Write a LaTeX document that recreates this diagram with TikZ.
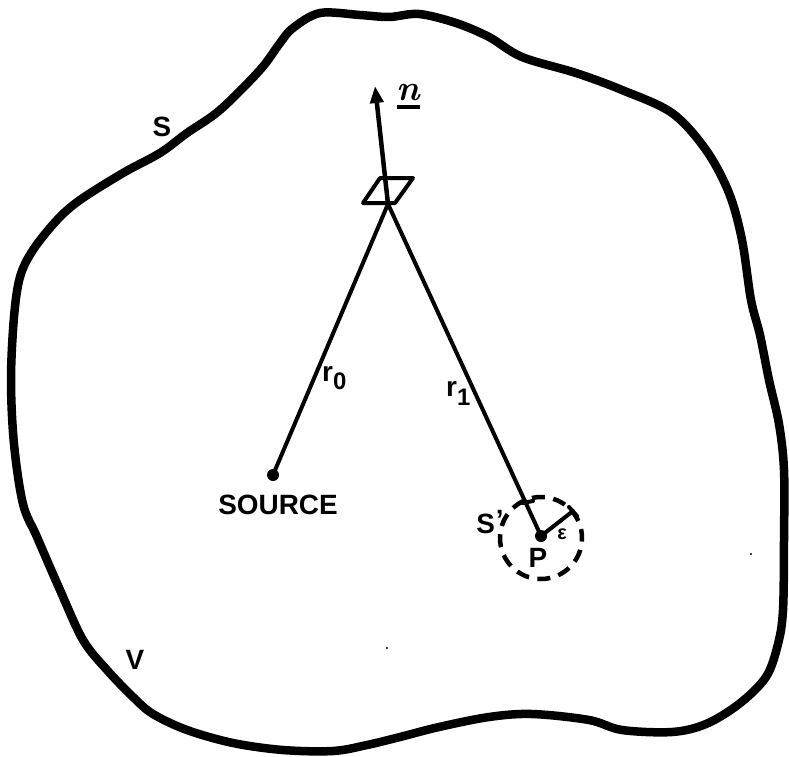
\documentclass[tikz,border=0pt]{standalone}
\usepackage{fontspec}
\newfontfamily\labfont{Liberation Sans}
\usetikzlibrary{arrows.meta}
\begin{document}
\begin{tikzpicture}[x=1bp,y=-1bp,
  lab/.style={font=\labfont\bfseries\fontsize{28}{30}\selectfont, inner sep=0pt},
  thin line/.style={line width=4bp, line cap=round},
  dotnode/.style={circle, fill, inner sep=0pt, minimum size=12bp}]
\useasboundingbox (0,0) rectangle (789,757);
% boundary surface S
\draw[line width=8.5bp, line join=round] plot[smooth cycle, tension=0.55] coordinates {
 (320,13) (360,15) (389,17) (419,14) (456,23) (489,37) (522,57) (576,73) (622,90)
 (672,113) (706,150) (729,193) (742,240) (751,300) (760,335) (769,380) (779,424)
 (784,470) (784,540) (783,610) (778,644) (766,677) (739,704) (706,724) (672,732)
 (622,730) (589,720) (532,714) (489,717) (439,727) (400,737) (367,745) (333,751)
 (283,750) (233,743) (187,730) (153,714) (133,697) (107,670) (83,640) (60,590)
 (37,537) (23,504) (14,444) (11,380) (14,317) (20,277) (33,250) (57,220) (80,200)
 (123,173) (160,153) (187,133) (220,110) (260,70) (280,43) (293,28)};
% surface element and normal
\coordinate (dS) at (388,204);
\coordinate (ntip) at (375,86);
\draw[line width=4bp, line join=round] (380,178) -- (413,178) -- (395,203) -- (363,203) -- cycle;
\draw[line width=4.5bp, -{Triangle[length=17bp,width=13bp]}] (dS) -- (ntip);
\node[inner sep=0pt, font=\fontsize{36}{38}\selectfont\bfseries\itshape] (nlab) at (408,93) {n};
\draw[line width=3.5bp] (397,107) -- (420,107);
% source and P
\node[dotnode] (src) at (273,475) {};
\node[dotnode] (P) at (541,536) {};
\draw[thin line] (src.center) -- (dS) -- (P.center);
% small sphere S'
\coordinate (pc) at (541,538);
\draw[line width=4.5bp, dash pattern=on 13bp off 8.5bp, dash phase=4bp] (pc) circle (41bp);
\coordinate (eps) at (573,511);
\draw[thin line] (P.center) -- (eps);
\coordinate (e1) at (569,507); \coordinate (e2) at (577,516);
\draw[thin line] (e1) -- (e2);
\coordinate (t1) at (522,503); \coordinate (t2) at (533,501);
\draw[thin line] (t1) -- (t2);
% labels
\node[lab] (Slab) at (162,127) {S};
\node[lab] (Vlab) at (135,660) {V};
\node[lab] (srclab) at (278,505) {SOURCE};
\node[lab] (Plab) at (538,558) {P};
\node[lab] (Sp) at (490,522) {S\raisebox{4bp}{\kern1bp\textquoteright}};
\node[inner sep=0pt, font=\labfont\bfseries\fontsize{20}{20}\selectfont] (elab) at (562,534) {ε};
\node[lab, anchor=west] (r0) at (322,378) {r\raisebox{-8bp}{\fontsize{24}{24}\selectfont 0}};
\node[lab, anchor=west] (r1) at (446,393) {r\raisebox{-9bp}{\fontsize{24}{24}\selectfont 1}};
% specks
\fill (387,648) circle (1.2bp);
\fill (751,554) circle (1.2bp);
\end{tikzpicture}
\end{document}
